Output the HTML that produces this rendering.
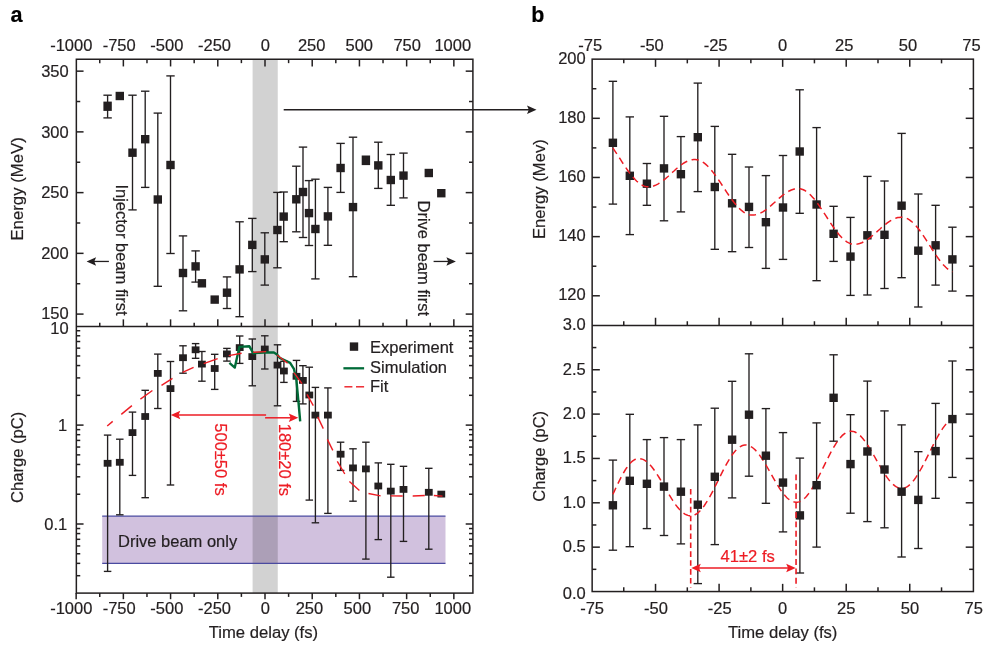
<!DOCTYPE html>
<html lang="en">
<head>
<meta charset="utf-8">
<title>Figure</title>
<style>
html,body{margin:0;padding:0;background:#fff;}
body{width:1000px;height:647px;overflow:hidden;}
svg{display:block;font-family:"Liberation Sans",Arial,Helvetica,sans-serif;}
</style>
</head>
<body>
<svg width="1000" height="647" viewBox="0 0 1000 647">
<rect x="0" y="0" width="1000" height="647" fill="#ffffff"/>
<rect x="252.6" y="59.25" width="25.15" height="533.85" fill="#d2d2d2"/>
<rect x="102.2" y="516.15" width="343.30" height="47.15" fill="#d1c1de" style="mix-blend-mode:multiply"/>
<line x1="102.20" y1="516.20" x2="445.50" y2="516.20" stroke="#4a4aa0" stroke-width="1.2" />
<line x1="102.20" y1="563.30" x2="445.50" y2="563.30" stroke="#4a4aa0" stroke-width="1.2" />
<line x1="76.15" y1="593.10" x2="76.15" y2="599.20" stroke="#231f20" stroke-width="1.5" />
<line x1="99.76" y1="59.25" x2="99.76" y2="63.15" stroke="#231f20" stroke-width="1.5" />
<line x1="99.76" y1="326.55" x2="99.76" y2="322.65" stroke="#231f20" stroke-width="1.5" />
<line x1="99.76" y1="593.10" x2="99.76" y2="596.90" stroke="#231f20" stroke-width="1.5" />
<line x1="123.36" y1="59.25" x2="123.36" y2="66.45" stroke="#231f20" stroke-width="1.5" />
<line x1="123.36" y1="326.55" x2="123.36" y2="319.35" stroke="#231f20" stroke-width="1.5" />
<line x1="123.36" y1="593.10" x2="123.36" y2="599.20" stroke="#231f20" stroke-width="1.5" />
<line x1="146.97" y1="59.25" x2="146.97" y2="63.15" stroke="#231f20" stroke-width="1.5" />
<line x1="146.97" y1="326.55" x2="146.97" y2="322.65" stroke="#231f20" stroke-width="1.5" />
<line x1="146.97" y1="593.10" x2="146.97" y2="596.90" stroke="#231f20" stroke-width="1.5" />
<line x1="170.57" y1="59.25" x2="170.57" y2="66.45" stroke="#231f20" stroke-width="1.5" />
<line x1="170.57" y1="326.55" x2="170.57" y2="319.35" stroke="#231f20" stroke-width="1.5" />
<line x1="170.57" y1="593.10" x2="170.57" y2="599.20" stroke="#231f20" stroke-width="1.5" />
<line x1="194.18" y1="59.25" x2="194.18" y2="63.15" stroke="#231f20" stroke-width="1.5" />
<line x1="194.18" y1="326.55" x2="194.18" y2="322.65" stroke="#231f20" stroke-width="1.5" />
<line x1="194.18" y1="593.10" x2="194.18" y2="596.90" stroke="#231f20" stroke-width="1.5" />
<line x1="217.79" y1="59.25" x2="217.79" y2="66.45" stroke="#231f20" stroke-width="1.5" />
<line x1="217.79" y1="326.55" x2="217.79" y2="319.35" stroke="#231f20" stroke-width="1.5" />
<line x1="217.79" y1="593.10" x2="217.79" y2="599.20" stroke="#231f20" stroke-width="1.5" />
<line x1="241.39" y1="59.25" x2="241.39" y2="63.15" stroke="#231f20" stroke-width="1.5" />
<line x1="241.39" y1="326.55" x2="241.39" y2="322.65" stroke="#231f20" stroke-width="1.5" />
<line x1="241.39" y1="593.10" x2="241.39" y2="596.90" stroke="#231f20" stroke-width="1.5" />
<line x1="265.00" y1="59.25" x2="265.00" y2="66.45" stroke="#231f20" stroke-width="1.5" />
<line x1="265.00" y1="326.55" x2="265.00" y2="319.35" stroke="#231f20" stroke-width="1.5" />
<line x1="265.00" y1="593.10" x2="265.00" y2="599.20" stroke="#231f20" stroke-width="1.5" />
<line x1="288.61" y1="59.25" x2="288.61" y2="63.15" stroke="#231f20" stroke-width="1.5" />
<line x1="288.61" y1="326.55" x2="288.61" y2="322.65" stroke="#231f20" stroke-width="1.5" />
<line x1="288.61" y1="593.10" x2="288.61" y2="596.90" stroke="#231f20" stroke-width="1.5" />
<line x1="312.21" y1="59.25" x2="312.21" y2="66.45" stroke="#231f20" stroke-width="1.5" />
<line x1="312.21" y1="326.55" x2="312.21" y2="319.35" stroke="#231f20" stroke-width="1.5" />
<line x1="312.21" y1="593.10" x2="312.21" y2="599.20" stroke="#231f20" stroke-width="1.5" />
<line x1="335.82" y1="59.25" x2="335.82" y2="63.15" stroke="#231f20" stroke-width="1.5" />
<line x1="335.82" y1="326.55" x2="335.82" y2="322.65" stroke="#231f20" stroke-width="1.5" />
<line x1="335.82" y1="593.10" x2="335.82" y2="596.90" stroke="#231f20" stroke-width="1.5" />
<line x1="359.43" y1="59.25" x2="359.43" y2="66.45" stroke="#231f20" stroke-width="1.5" />
<line x1="359.43" y1="326.55" x2="359.43" y2="319.35" stroke="#231f20" stroke-width="1.5" />
<line x1="359.43" y1="593.10" x2="359.43" y2="599.20" stroke="#231f20" stroke-width="1.5" />
<line x1="383.03" y1="59.25" x2="383.03" y2="63.15" stroke="#231f20" stroke-width="1.5" />
<line x1="383.03" y1="326.55" x2="383.03" y2="322.65" stroke="#231f20" stroke-width="1.5" />
<line x1="383.03" y1="593.10" x2="383.03" y2="596.90" stroke="#231f20" stroke-width="1.5" />
<line x1="406.64" y1="59.25" x2="406.64" y2="66.45" stroke="#231f20" stroke-width="1.5" />
<line x1="406.64" y1="326.55" x2="406.64" y2="319.35" stroke="#231f20" stroke-width="1.5" />
<line x1="406.64" y1="593.10" x2="406.64" y2="599.20" stroke="#231f20" stroke-width="1.5" />
<line x1="430.24" y1="59.25" x2="430.24" y2="63.15" stroke="#231f20" stroke-width="1.5" />
<line x1="430.24" y1="326.55" x2="430.24" y2="322.65" stroke="#231f20" stroke-width="1.5" />
<line x1="430.24" y1="593.10" x2="430.24" y2="596.90" stroke="#231f20" stroke-width="1.5" />
<line x1="453.85" y1="59.25" x2="453.85" y2="66.45" stroke="#231f20" stroke-width="1.5" />
<line x1="453.85" y1="326.55" x2="453.85" y2="319.35" stroke="#231f20" stroke-width="1.5" />
<line x1="453.85" y1="593.10" x2="453.85" y2="599.20" stroke="#231f20" stroke-width="1.5" />
<line x1="76.35" y1="314.09" x2="83.55" y2="314.09" stroke="#231f20" stroke-width="1.5" />
<line x1="472.90" y1="314.09" x2="465.70" y2="314.09" stroke="#231f20" stroke-width="1.5" />
<line x1="76.35" y1="283.72" x2="80.25" y2="283.72" stroke="#231f20" stroke-width="1.5" />
<line x1="472.90" y1="283.72" x2="469.00" y2="283.72" stroke="#231f20" stroke-width="1.5" />
<line x1="76.35" y1="253.35" x2="83.55" y2="253.35" stroke="#231f20" stroke-width="1.5" />
<line x1="472.90" y1="253.35" x2="465.70" y2="253.35" stroke="#231f20" stroke-width="1.5" />
<line x1="76.35" y1="222.99" x2="80.25" y2="222.99" stroke="#231f20" stroke-width="1.5" />
<line x1="472.90" y1="222.99" x2="469.00" y2="222.99" stroke="#231f20" stroke-width="1.5" />
<line x1="76.35" y1="192.62" x2="83.55" y2="192.62" stroke="#231f20" stroke-width="1.5" />
<line x1="472.90" y1="192.62" x2="465.70" y2="192.62" stroke="#231f20" stroke-width="1.5" />
<line x1="76.35" y1="162.25" x2="80.25" y2="162.25" stroke="#231f20" stroke-width="1.5" />
<line x1="472.90" y1="162.25" x2="469.00" y2="162.25" stroke="#231f20" stroke-width="1.5" />
<line x1="76.35" y1="131.88" x2="83.55" y2="131.88" stroke="#231f20" stroke-width="1.5" />
<line x1="472.90" y1="131.88" x2="465.70" y2="131.88" stroke="#231f20" stroke-width="1.5" />
<line x1="76.35" y1="101.52" x2="80.25" y2="101.52" stroke="#231f20" stroke-width="1.5" />
<line x1="472.90" y1="101.52" x2="469.00" y2="101.52" stroke="#231f20" stroke-width="1.5" />
<line x1="76.35" y1="71.15" x2="83.55" y2="71.15" stroke="#231f20" stroke-width="1.5" />
<line x1="472.90" y1="71.15" x2="465.70" y2="71.15" stroke="#231f20" stroke-width="1.5" />
<line x1="76.35" y1="575.71" x2="80.25" y2="575.71" stroke="#231f20" stroke-width="1.5" />
<line x1="472.90" y1="575.71" x2="469.00" y2="575.71" stroke="#231f20" stroke-width="1.5" />
<line x1="76.35" y1="563.36" x2="80.25" y2="563.36" stroke="#231f20" stroke-width="1.5" />
<line x1="472.90" y1="563.36" x2="469.00" y2="563.36" stroke="#231f20" stroke-width="1.5" />
<line x1="76.35" y1="553.77" x2="80.25" y2="553.77" stroke="#231f20" stroke-width="1.5" />
<line x1="472.90" y1="553.77" x2="469.00" y2="553.77" stroke="#231f20" stroke-width="1.5" />
<line x1="76.35" y1="545.94" x2="80.25" y2="545.94" stroke="#231f20" stroke-width="1.5" />
<line x1="472.90" y1="545.94" x2="469.00" y2="545.94" stroke="#231f20" stroke-width="1.5" />
<line x1="76.35" y1="539.32" x2="80.25" y2="539.32" stroke="#231f20" stroke-width="1.5" />
<line x1="472.90" y1="539.32" x2="469.00" y2="539.32" stroke="#231f20" stroke-width="1.5" />
<line x1="76.35" y1="533.58" x2="80.25" y2="533.58" stroke="#231f20" stroke-width="1.5" />
<line x1="472.90" y1="533.58" x2="469.00" y2="533.58" stroke="#231f20" stroke-width="1.5" />
<line x1="76.35" y1="528.53" x2="80.25" y2="528.53" stroke="#231f20" stroke-width="1.5" />
<line x1="472.90" y1="528.53" x2="469.00" y2="528.53" stroke="#231f20" stroke-width="1.5" />
<line x1="76.35" y1="524.00" x2="83.55" y2="524.00" stroke="#231f20" stroke-width="1.5" />
<line x1="472.90" y1="524.00" x2="465.70" y2="524.00" stroke="#231f20" stroke-width="1.5" />
<line x1="76.35" y1="494.23" x2="80.25" y2="494.23" stroke="#231f20" stroke-width="1.5" />
<line x1="472.90" y1="494.23" x2="469.00" y2="494.23" stroke="#231f20" stroke-width="1.5" />
<line x1="76.35" y1="476.81" x2="80.25" y2="476.81" stroke="#231f20" stroke-width="1.5" />
<line x1="472.90" y1="476.81" x2="469.00" y2="476.81" stroke="#231f20" stroke-width="1.5" />
<line x1="76.35" y1="464.46" x2="80.25" y2="464.46" stroke="#231f20" stroke-width="1.5" />
<line x1="472.90" y1="464.46" x2="469.00" y2="464.46" stroke="#231f20" stroke-width="1.5" />
<line x1="76.35" y1="454.87" x2="80.25" y2="454.87" stroke="#231f20" stroke-width="1.5" />
<line x1="472.90" y1="454.87" x2="469.00" y2="454.87" stroke="#231f20" stroke-width="1.5" />
<line x1="76.35" y1="447.04" x2="80.25" y2="447.04" stroke="#231f20" stroke-width="1.5" />
<line x1="472.90" y1="447.04" x2="469.00" y2="447.04" stroke="#231f20" stroke-width="1.5" />
<line x1="76.35" y1="440.42" x2="80.25" y2="440.42" stroke="#231f20" stroke-width="1.5" />
<line x1="472.90" y1="440.42" x2="469.00" y2="440.42" stroke="#231f20" stroke-width="1.5" />
<line x1="76.35" y1="434.68" x2="80.25" y2="434.68" stroke="#231f20" stroke-width="1.5" />
<line x1="472.90" y1="434.68" x2="469.00" y2="434.68" stroke="#231f20" stroke-width="1.5" />
<line x1="76.35" y1="429.63" x2="80.25" y2="429.63" stroke="#231f20" stroke-width="1.5" />
<line x1="472.90" y1="429.63" x2="469.00" y2="429.63" stroke="#231f20" stroke-width="1.5" />
<line x1="76.35" y1="425.10" x2="83.55" y2="425.10" stroke="#231f20" stroke-width="1.5" />
<line x1="472.90" y1="425.10" x2="465.70" y2="425.10" stroke="#231f20" stroke-width="1.5" />
<line x1="76.35" y1="395.33" x2="80.25" y2="395.33" stroke="#231f20" stroke-width="1.5" />
<line x1="472.90" y1="395.33" x2="469.00" y2="395.33" stroke="#231f20" stroke-width="1.5" />
<line x1="76.35" y1="377.91" x2="80.25" y2="377.91" stroke="#231f20" stroke-width="1.5" />
<line x1="472.90" y1="377.91" x2="469.00" y2="377.91" stroke="#231f20" stroke-width="1.5" />
<line x1="76.35" y1="365.56" x2="80.25" y2="365.56" stroke="#231f20" stroke-width="1.5" />
<line x1="472.90" y1="365.56" x2="469.00" y2="365.56" stroke="#231f20" stroke-width="1.5" />
<line x1="76.35" y1="355.97" x2="80.25" y2="355.97" stroke="#231f20" stroke-width="1.5" />
<line x1="472.90" y1="355.97" x2="469.00" y2="355.97" stroke="#231f20" stroke-width="1.5" />
<line x1="76.35" y1="348.14" x2="80.25" y2="348.14" stroke="#231f20" stroke-width="1.5" />
<line x1="472.90" y1="348.14" x2="469.00" y2="348.14" stroke="#231f20" stroke-width="1.5" />
<line x1="76.35" y1="341.52" x2="80.25" y2="341.52" stroke="#231f20" stroke-width="1.5" />
<line x1="472.90" y1="341.52" x2="469.00" y2="341.52" stroke="#231f20" stroke-width="1.5" />
<line x1="76.35" y1="335.78" x2="80.25" y2="335.78" stroke="#231f20" stroke-width="1.5" />
<line x1="472.90" y1="335.78" x2="469.00" y2="335.78" stroke="#231f20" stroke-width="1.5" />
<line x1="76.35" y1="330.73" x2="80.25" y2="330.73" stroke="#231f20" stroke-width="1.5" />
<line x1="472.90" y1="330.73" x2="469.00" y2="330.73" stroke="#231f20" stroke-width="1.5" />
<rect x="76.35" y="59.25" width="396.55" height="533.85" fill="none" stroke="#231f20" stroke-width="1.5"/>
<line x1="76.35" y1="326.55" x2="472.90" y2="326.55" stroke="#231f20" stroke-width="1.5" />
<line x1="107.60" y1="95.20" x2="107.60" y2="117.90" stroke="#231f20" stroke-width="1.35" />
<line x1="103.40" y1="95.20" x2="111.80" y2="95.20" stroke="#231f20" stroke-width="1.35" />
<line x1="103.40" y1="117.90" x2="111.80" y2="117.90" stroke="#231f20" stroke-width="1.35" />
<line x1="132.50" y1="95.20" x2="132.50" y2="209.90" stroke="#231f20" stroke-width="1.35" />
<line x1="128.30" y1="95.20" x2="136.70" y2="95.20" stroke="#231f20" stroke-width="1.35" />
<line x1="128.30" y1="209.90" x2="136.70" y2="209.90" stroke="#231f20" stroke-width="1.35" />
<line x1="145.20" y1="91.20" x2="145.20" y2="187.40" stroke="#231f20" stroke-width="1.35" />
<line x1="141.00" y1="91.20" x2="149.40" y2="91.20" stroke="#231f20" stroke-width="1.35" />
<line x1="141.00" y1="187.40" x2="149.40" y2="187.40" stroke="#231f20" stroke-width="1.35" />
<line x1="157.80" y1="113.10" x2="157.80" y2="286.30" stroke="#231f20" stroke-width="1.35" />
<line x1="153.60" y1="113.10" x2="162.00" y2="113.10" stroke="#231f20" stroke-width="1.35" />
<line x1="153.60" y1="286.30" x2="162.00" y2="286.30" stroke="#231f20" stroke-width="1.35" />
<line x1="170.50" y1="75.90" x2="170.50" y2="253.50" stroke="#231f20" stroke-width="1.35" />
<line x1="166.30" y1="75.90" x2="174.70" y2="75.90" stroke="#231f20" stroke-width="1.35" />
<line x1="166.30" y1="253.50" x2="174.70" y2="253.50" stroke="#231f20" stroke-width="1.35" />
<line x1="183.00" y1="235.90" x2="183.00" y2="310.80" stroke="#231f20" stroke-width="1.35" />
<line x1="178.80" y1="235.90" x2="187.20" y2="235.90" stroke="#231f20" stroke-width="1.35" />
<line x1="178.80" y1="310.80" x2="187.20" y2="310.80" stroke="#231f20" stroke-width="1.35" />
<line x1="195.60" y1="250.90" x2="195.60" y2="282.10" stroke="#231f20" stroke-width="1.35" />
<line x1="191.40" y1="250.90" x2="199.80" y2="250.90" stroke="#231f20" stroke-width="1.35" />
<line x1="191.40" y1="282.10" x2="199.80" y2="282.10" stroke="#231f20" stroke-width="1.35" />
<line x1="227.00" y1="276.90" x2="227.00" y2="308.50" stroke="#231f20" stroke-width="1.35" />
<line x1="222.80" y1="276.90" x2="231.20" y2="276.90" stroke="#231f20" stroke-width="1.35" />
<line x1="222.80" y1="308.50" x2="231.20" y2="308.50" stroke="#231f20" stroke-width="1.35" />
<line x1="239.60" y1="221.80" x2="239.60" y2="316.70" stroke="#231f20" stroke-width="1.35" />
<line x1="235.40" y1="221.80" x2="243.80" y2="221.80" stroke="#231f20" stroke-width="1.35" />
<line x1="235.40" y1="316.70" x2="243.80" y2="316.70" stroke="#231f20" stroke-width="1.35" />
<line x1="252.30" y1="218.40" x2="252.30" y2="271.60" stroke="#231f20" stroke-width="1.35" />
<line x1="248.10" y1="218.40" x2="256.50" y2="218.40" stroke="#231f20" stroke-width="1.35" />
<line x1="248.10" y1="271.60" x2="256.50" y2="271.60" stroke="#231f20" stroke-width="1.35" />
<line x1="264.80" y1="232.80" x2="264.80" y2="285.10" stroke="#231f20" stroke-width="1.35" />
<line x1="260.60" y1="232.80" x2="269.00" y2="232.80" stroke="#231f20" stroke-width="1.35" />
<line x1="260.60" y1="285.10" x2="269.00" y2="285.10" stroke="#231f20" stroke-width="1.35" />
<line x1="277.40" y1="192.40" x2="277.40" y2="267.80" stroke="#231f20" stroke-width="1.35" />
<line x1="273.20" y1="192.40" x2="281.60" y2="192.40" stroke="#231f20" stroke-width="1.35" />
<line x1="273.20" y1="267.80" x2="281.60" y2="267.80" stroke="#231f20" stroke-width="1.35" />
<line x1="283.70" y1="192.00" x2="283.70" y2="241.70" stroke="#231f20" stroke-width="1.35" />
<line x1="279.50" y1="192.00" x2="287.90" y2="192.00" stroke="#231f20" stroke-width="1.35" />
<line x1="279.50" y1="241.70" x2="287.90" y2="241.70" stroke="#231f20" stroke-width="1.35" />
<line x1="296.30" y1="166.20" x2="296.30" y2="231.80" stroke="#231f20" stroke-width="1.35" />
<line x1="292.10" y1="166.20" x2="300.50" y2="166.20" stroke="#231f20" stroke-width="1.35" />
<line x1="292.10" y1="231.80" x2="300.50" y2="231.80" stroke="#231f20" stroke-width="1.35" />
<line x1="303.00" y1="147.10" x2="303.00" y2="237.50" stroke="#231f20" stroke-width="1.35" />
<line x1="298.80" y1="147.10" x2="307.20" y2="147.10" stroke="#231f20" stroke-width="1.35" />
<line x1="298.80" y1="237.50" x2="307.20" y2="237.50" stroke="#231f20" stroke-width="1.35" />
<line x1="309.00" y1="180.60" x2="309.00" y2="245.50" stroke="#231f20" stroke-width="1.35" />
<line x1="304.80" y1="180.60" x2="313.20" y2="180.60" stroke="#231f20" stroke-width="1.35" />
<line x1="304.80" y1="245.50" x2="313.20" y2="245.50" stroke="#231f20" stroke-width="1.35" />
<line x1="315.40" y1="179.20" x2="315.40" y2="278.90" stroke="#231f20" stroke-width="1.35" />
<line x1="311.20" y1="179.20" x2="319.60" y2="179.20" stroke="#231f20" stroke-width="1.35" />
<line x1="311.20" y1="278.90" x2="319.60" y2="278.90" stroke="#231f20" stroke-width="1.35" />
<line x1="327.90" y1="187.40" x2="327.90" y2="245.30" stroke="#231f20" stroke-width="1.35" />
<line x1="323.70" y1="187.40" x2="332.10" y2="187.40" stroke="#231f20" stroke-width="1.35" />
<line x1="323.70" y1="245.30" x2="332.10" y2="245.30" stroke="#231f20" stroke-width="1.35" />
<line x1="340.60" y1="143.40" x2="340.60" y2="192.40" stroke="#231f20" stroke-width="1.35" />
<line x1="336.40" y1="143.40" x2="344.80" y2="143.40" stroke="#231f20" stroke-width="1.35" />
<line x1="336.40" y1="192.40" x2="344.80" y2="192.40" stroke="#231f20" stroke-width="1.35" />
<line x1="353.00" y1="137.20" x2="353.00" y2="276.70" stroke="#231f20" stroke-width="1.35" />
<line x1="348.80" y1="137.20" x2="357.20" y2="137.20" stroke="#231f20" stroke-width="1.35" />
<line x1="348.80" y1="276.70" x2="357.20" y2="276.70" stroke="#231f20" stroke-width="1.35" />
<line x1="378.30" y1="142.20" x2="378.30" y2="188.40" stroke="#231f20" stroke-width="1.35" />
<line x1="374.10" y1="142.20" x2="382.50" y2="142.20" stroke="#231f20" stroke-width="1.35" />
<line x1="374.10" y1="188.40" x2="382.50" y2="188.40" stroke="#231f20" stroke-width="1.35" />
<line x1="390.80" y1="154.50" x2="390.80" y2="205.30" stroke="#231f20" stroke-width="1.35" />
<line x1="386.60" y1="154.50" x2="395.00" y2="154.50" stroke="#231f20" stroke-width="1.35" />
<line x1="386.60" y1="205.30" x2="395.00" y2="205.30" stroke="#231f20" stroke-width="1.35" />
<line x1="403.50" y1="153.10" x2="403.50" y2="197.90" stroke="#231f20" stroke-width="1.35" />
<line x1="399.30" y1="153.10" x2="407.70" y2="153.10" stroke="#231f20" stroke-width="1.35" />
<line x1="399.30" y1="197.90" x2="407.70" y2="197.90" stroke="#231f20" stroke-width="1.35" />
<rect x="103.40" y="101.60" width="8.4" height="9.3" fill="#231f20"/>
<rect x="115.60" y="91.80" width="8.4" height="8.4" fill="#231f20"/>
<rect x="128.30" y="148.50" width="8.4" height="8.4" fill="#231f20"/>
<rect x="141.00" y="135.00" width="8.4" height="8.4" fill="#231f20"/>
<rect x="153.60" y="195.30" width="8.4" height="8.4" fill="#231f20"/>
<rect x="166.30" y="160.80" width="8.4" height="8.4" fill="#231f20"/>
<rect x="178.80" y="268.80" width="8.4" height="8.4" fill="#231f20"/>
<rect x="191.40" y="262.20" width="8.4" height="8.4" fill="#231f20"/>
<rect x="197.70" y="279.10" width="8.4" height="8.4" fill="#231f20"/>
<rect x="210.50" y="295.40" width="8.4" height="8.4" fill="#231f20"/>
<rect x="222.80" y="288.50" width="8.4" height="8.4" fill="#231f20"/>
<rect x="235.40" y="265.20" width="8.4" height="8.4" fill="#231f20"/>
<rect x="248.10" y="240.70" width="8.4" height="8.4" fill="#231f20"/>
<rect x="260.60" y="255.20" width="8.4" height="8.4" fill="#231f20"/>
<rect x="273.20" y="225.80" width="8.4" height="8.4" fill="#231f20"/>
<rect x="279.50" y="212.40" width="8.4" height="8.4" fill="#231f20"/>
<rect x="292.10" y="195.10" width="8.4" height="8.4" fill="#231f20"/>
<rect x="298.80" y="187.80" width="8.4" height="8.4" fill="#231f20"/>
<rect x="304.80" y="208.90" width="8.4" height="8.4" fill="#231f20"/>
<rect x="311.20" y="224.80" width="8.4" height="8.4" fill="#231f20"/>
<rect x="323.70" y="212.20" width="8.4" height="8.4" fill="#231f20"/>
<rect x="336.40" y="163.80" width="8.4" height="8.4" fill="#231f20"/>
<rect x="348.80" y="202.90" width="8.4" height="8.4" fill="#231f20"/>
<rect x="361.70" y="155.50" width="8.4" height="9.6" fill="#231f20"/>
<rect x="374.10" y="161.20" width="8.4" height="8.4" fill="#231f20"/>
<rect x="386.60" y="175.80" width="8.4" height="8.4" fill="#231f20"/>
<rect x="399.30" y="171.40" width="8.4" height="8.4" fill="#231f20"/>
<rect x="424.60" y="168.80" width="8.4" height="8.4" fill="#231f20"/>
<rect x="437.10" y="189.00" width="8.4" height="8.4" fill="#231f20"/>
<line x1="107.60" y1="435.10" x2="107.60" y2="571.40" stroke="#231f20" stroke-width="1.35" />
<line x1="103.85" y1="435.10" x2="111.35" y2="435.10" stroke="#231f20" stroke-width="1.35" />
<line x1="103.85" y1="571.40" x2="111.35" y2="571.40" stroke="#231f20" stroke-width="1.35" />
<line x1="119.80" y1="439.20" x2="119.80" y2="514.80" stroke="#231f20" stroke-width="1.35" />
<line x1="116.05" y1="439.20" x2="123.55" y2="439.20" stroke="#231f20" stroke-width="1.35" />
<line x1="116.05" y1="514.80" x2="123.55" y2="514.80" stroke="#231f20" stroke-width="1.35" />
<line x1="132.50" y1="412.10" x2="132.50" y2="475.40" stroke="#231f20" stroke-width="1.35" />
<line x1="128.75" y1="412.10" x2="136.25" y2="412.10" stroke="#231f20" stroke-width="1.35" />
<line x1="128.75" y1="475.40" x2="136.25" y2="475.40" stroke="#231f20" stroke-width="1.35" />
<line x1="145.20" y1="390.30" x2="145.20" y2="497.70" stroke="#231f20" stroke-width="1.35" />
<line x1="141.45" y1="390.30" x2="148.95" y2="390.30" stroke="#231f20" stroke-width="1.35" />
<line x1="141.45" y1="497.70" x2="148.95" y2="497.70" stroke="#231f20" stroke-width="1.35" />
<line x1="157.80" y1="354.10" x2="157.80" y2="408.50" stroke="#231f20" stroke-width="1.35" />
<line x1="154.05" y1="354.10" x2="161.55" y2="354.10" stroke="#231f20" stroke-width="1.35" />
<line x1="154.05" y1="408.50" x2="161.55" y2="408.50" stroke="#231f20" stroke-width="1.35" />
<line x1="170.50" y1="361.50" x2="170.50" y2="485.00" stroke="#231f20" stroke-width="1.35" />
<line x1="166.75" y1="361.50" x2="174.25" y2="361.50" stroke="#231f20" stroke-width="1.35" />
<line x1="166.75" y1="485.00" x2="174.25" y2="485.00" stroke="#231f20" stroke-width="1.35" />
<line x1="183.00" y1="345.80" x2="183.00" y2="373.20" stroke="#231f20" stroke-width="1.35" />
<line x1="179.25" y1="345.80" x2="186.75" y2="345.80" stroke="#231f20" stroke-width="1.35" />
<line x1="179.25" y1="373.20" x2="186.75" y2="373.20" stroke="#231f20" stroke-width="1.35" />
<line x1="195.60" y1="343.60" x2="195.60" y2="358.30" stroke="#231f20" stroke-width="1.35" />
<line x1="191.85" y1="343.60" x2="199.35" y2="343.60" stroke="#231f20" stroke-width="1.35" />
<line x1="191.85" y1="358.30" x2="199.35" y2="358.30" stroke="#231f20" stroke-width="1.35" />
<line x1="201.90" y1="351.50" x2="201.90" y2="381.20" stroke="#231f20" stroke-width="1.35" />
<line x1="198.15" y1="351.50" x2="205.65" y2="351.50" stroke="#231f20" stroke-width="1.35" />
<line x1="198.15" y1="381.20" x2="205.65" y2="381.20" stroke="#231f20" stroke-width="1.35" />
<line x1="214.70" y1="354.30" x2="214.70" y2="389.40" stroke="#231f20" stroke-width="1.35" />
<line x1="210.95" y1="354.30" x2="218.45" y2="354.30" stroke="#231f20" stroke-width="1.35" />
<line x1="210.95" y1="389.40" x2="218.45" y2="389.40" stroke="#231f20" stroke-width="1.35" />
<line x1="226.90" y1="348.40" x2="226.90" y2="361.10" stroke="#231f20" stroke-width="1.35" />
<line x1="223.15" y1="348.40" x2="230.65" y2="348.40" stroke="#231f20" stroke-width="1.35" />
<line x1="223.15" y1="361.10" x2="230.65" y2="361.10" stroke="#231f20" stroke-width="1.35" />
<line x1="239.70" y1="336.00" x2="239.70" y2="363.40" stroke="#231f20" stroke-width="1.35" />
<line x1="235.95" y1="336.00" x2="243.45" y2="336.00" stroke="#231f20" stroke-width="1.35" />
<line x1="235.95" y1="363.40" x2="243.45" y2="363.40" stroke="#231f20" stroke-width="1.35" />
<line x1="252.30" y1="339.00" x2="252.30" y2="385.80" stroke="#231f20" stroke-width="1.35" />
<line x1="248.55" y1="339.00" x2="256.05" y2="339.00" stroke="#231f20" stroke-width="1.35" />
<line x1="248.55" y1="385.80" x2="256.05" y2="385.80" stroke="#231f20" stroke-width="1.35" />
<line x1="264.80" y1="335.80" x2="264.80" y2="369.00" stroke="#231f20" stroke-width="1.35" />
<line x1="261.05" y1="335.80" x2="268.55" y2="335.80" stroke="#231f20" stroke-width="1.35" />
<line x1="261.05" y1="369.00" x2="268.55" y2="369.00" stroke="#231f20" stroke-width="1.35" />
<line x1="277.50" y1="344.80" x2="277.50" y2="405.80" stroke="#231f20" stroke-width="1.35" />
<line x1="273.75" y1="344.80" x2="281.25" y2="344.80" stroke="#231f20" stroke-width="1.35" />
<line x1="273.75" y1="405.80" x2="281.25" y2="405.80" stroke="#231f20" stroke-width="1.35" />
<line x1="283.90" y1="361.30" x2="283.90" y2="382.40" stroke="#231f20" stroke-width="1.35" />
<line x1="280.15" y1="361.30" x2="287.65" y2="361.30" stroke="#231f20" stroke-width="1.35" />
<line x1="280.15" y1="382.40" x2="287.65" y2="382.40" stroke="#231f20" stroke-width="1.35" />
<line x1="296.50" y1="360.40" x2="296.50" y2="401.40" stroke="#231f20" stroke-width="1.35" />
<line x1="292.75" y1="360.40" x2="300.25" y2="360.40" stroke="#231f20" stroke-width="1.35" />
<line x1="292.75" y1="401.40" x2="300.25" y2="401.40" stroke="#231f20" stroke-width="1.35" />
<line x1="302.90" y1="365.70" x2="302.90" y2="403.90" stroke="#231f20" stroke-width="1.35" />
<line x1="299.15" y1="365.70" x2="306.65" y2="365.70" stroke="#231f20" stroke-width="1.35" />
<line x1="299.15" y1="403.90" x2="306.65" y2="403.90" stroke="#231f20" stroke-width="1.35" />
<line x1="309.30" y1="367.20" x2="309.30" y2="500.10" stroke="#231f20" stroke-width="1.35" />
<line x1="305.55" y1="367.20" x2="313.05" y2="367.20" stroke="#231f20" stroke-width="1.35" />
<line x1="305.55" y1="500.10" x2="313.05" y2="500.10" stroke="#231f20" stroke-width="1.35" />
<line x1="315.40" y1="387.40" x2="315.40" y2="522.80" stroke="#231f20" stroke-width="1.35" />
<line x1="311.65" y1="387.40" x2="319.15" y2="387.40" stroke="#231f20" stroke-width="1.35" />
<line x1="311.65" y1="522.80" x2="319.15" y2="522.80" stroke="#231f20" stroke-width="1.35" />
<line x1="327.90" y1="387.90" x2="327.90" y2="513.40" stroke="#231f20" stroke-width="1.35" />
<line x1="324.15" y1="387.90" x2="331.65" y2="387.90" stroke="#231f20" stroke-width="1.35" />
<line x1="324.15" y1="513.40" x2="331.65" y2="513.40" stroke="#231f20" stroke-width="1.35" />
<line x1="340.60" y1="442.20" x2="340.60" y2="470.40" stroke="#231f20" stroke-width="1.35" />
<line x1="336.85" y1="442.20" x2="344.35" y2="442.20" stroke="#231f20" stroke-width="1.35" />
<line x1="336.85" y1="470.40" x2="344.35" y2="470.40" stroke="#231f20" stroke-width="1.35" />
<line x1="353.00" y1="448.80" x2="353.00" y2="501.20" stroke="#231f20" stroke-width="1.35" />
<line x1="349.25" y1="448.80" x2="356.75" y2="448.80" stroke="#231f20" stroke-width="1.35" />
<line x1="349.25" y1="501.20" x2="356.75" y2="501.20" stroke="#231f20" stroke-width="1.35" />
<line x1="365.90" y1="442.20" x2="365.90" y2="559.10" stroke="#231f20" stroke-width="1.35" />
<line x1="362.15" y1="442.20" x2="369.65" y2="442.20" stroke="#231f20" stroke-width="1.35" />
<line x1="362.15" y1="559.10" x2="369.65" y2="559.10" stroke="#231f20" stroke-width="1.35" />
<line x1="378.30" y1="462.90" x2="378.30" y2="539.60" stroke="#231f20" stroke-width="1.35" />
<line x1="374.55" y1="462.90" x2="382.05" y2="462.90" stroke="#231f20" stroke-width="1.35" />
<line x1="374.55" y1="539.60" x2="382.05" y2="539.60" stroke="#231f20" stroke-width="1.35" />
<line x1="390.80" y1="464.30" x2="390.80" y2="577.20" stroke="#231f20" stroke-width="1.35" />
<line x1="387.05" y1="464.30" x2="394.55" y2="464.30" stroke="#231f20" stroke-width="1.35" />
<line x1="387.05" y1="577.20" x2="394.55" y2="577.20" stroke="#231f20" stroke-width="1.35" />
<line x1="403.50" y1="466.30" x2="403.50" y2="541.40" stroke="#231f20" stroke-width="1.35" />
<line x1="399.75" y1="466.30" x2="407.25" y2="466.30" stroke="#231f20" stroke-width="1.35" />
<line x1="399.75" y1="541.40" x2="407.25" y2="541.40" stroke="#231f20" stroke-width="1.35" />
<line x1="428.80" y1="468.30" x2="428.80" y2="549.20" stroke="#231f20" stroke-width="1.35" />
<line x1="425.05" y1="468.30" x2="432.55" y2="468.30" stroke="#231f20" stroke-width="1.35" />
<line x1="425.05" y1="549.20" x2="432.55" y2="549.20" stroke="#231f20" stroke-width="1.35" />
<rect x="103.70" y="459.90" width="7.8" height="6.8" fill="#231f20"/>
<rect x="115.90" y="458.90" width="7.8" height="6.8" fill="#231f20"/>
<rect x="128.60" y="429.20" width="7.8" height="6.8" fill="#231f20"/>
<rect x="141.30" y="413.10" width="7.8" height="6.8" fill="#231f20"/>
<rect x="153.90" y="370.00" width="7.8" height="6.8" fill="#231f20"/>
<rect x="166.60" y="385.20" width="7.8" height="6.8" fill="#231f20"/>
<rect x="179.10" y="354.30" width="7.8" height="6.8" fill="#231f20"/>
<rect x="191.70" y="346.40" width="7.8" height="6.8" fill="#231f20"/>
<rect x="198.00" y="360.70" width="7.8" height="6.8" fill="#231f20"/>
<rect x="210.80" y="365.10" width="7.8" height="6.8" fill="#231f20"/>
<rect x="223.00" y="350.50" width="7.8" height="6.8" fill="#231f20"/>
<rect x="235.80" y="344.20" width="7.8" height="6.8" fill="#231f20"/>
<rect x="248.40" y="353.20" width="7.8" height="6.8" fill="#231f20"/>
<rect x="260.90" y="345.60" width="7.8" height="6.8" fill="#231f20"/>
<rect x="273.60" y="361.70" width="7.8" height="6.8" fill="#231f20"/>
<rect x="280.00" y="367.60" width="7.8" height="6.8" fill="#231f20"/>
<rect x="292.60" y="372.90" width="7.8" height="6.8" fill="#231f20"/>
<rect x="299.00" y="377.00" width="7.8" height="6.8" fill="#231f20"/>
<rect x="305.40" y="391.60" width="7.8" height="6.8" fill="#231f20"/>
<rect x="311.50" y="411.70" width="7.8" height="6.8" fill="#231f20"/>
<rect x="324.00" y="411.70" width="7.8" height="6.8" fill="#231f20"/>
<rect x="336.70" y="450.80" width="7.8" height="6.8" fill="#231f20"/>
<rect x="349.10" y="464.50" width="7.8" height="6.8" fill="#231f20"/>
<rect x="362.00" y="465.50" width="7.8" height="6.8" fill="#231f20"/>
<rect x="374.40" y="482.60" width="7.8" height="6.8" fill="#231f20"/>
<rect x="386.90" y="487.70" width="7.8" height="6.8" fill="#231f20"/>
<rect x="399.60" y="486.00" width="7.8" height="6.8" fill="#231f20"/>
<rect x="424.90" y="488.90" width="7.8" height="6.8" fill="#231f20"/>
<rect x="437.40" y="490.70" width="7.8" height="6.8" fill="#231f20"/>
<polyline points="229.4,362.8 234.8,367.6 239.4,346.9 249.4,346.3 253.2,353.2 263.8,352.5 273.9,352.5 277,354.4 280.1,358.2 290.1,362.8 293.9,368.8 296.4,380.1 298.3,400.1 300.2,421.3" fill="none" stroke="#006b38" stroke-width="2.4" stroke-linejoin="round"/>
<line x1="107.20" y1="426.00" x2="112.70" y2="421.40" stroke="#ed1c24" stroke-width="1.4" />
<line x1="121.30" y1="414.40" x2="131.90" y2="405.60" stroke="#ed1c24" stroke-width="1.4" />
<line x1="140.40" y1="399.10" x2="152.40" y2="390.50" stroke="#ed1c24" stroke-width="1.4" />
<line x1="161.50" y1="385.40" x2="172.50" y2="378.40" stroke="#ed1c24" stroke-width="1.4" />
<line x1="182.60" y1="372.40" x2="193.60" y2="367.30" stroke="#ed1c24" stroke-width="1.4" />
<line x1="203.70" y1="363.70" x2="217.70" y2="358.70" stroke="#ed1c24" stroke-width="1.4" />
<line x1="228.80" y1="355.60" x2="241.60" y2="353.30" stroke="#ed1c24" stroke-width="1.4" />
<line x1="253.10" y1="352.30" x2="266.20" y2="351.60" stroke="#ed1c24" stroke-width="1.4" />
<line x1="277.00" y1="355.00" x2="287.60" y2="363.20" stroke="#ed1c24" stroke-width="1.4" />
<line x1="293.90" y1="372.60" x2="302.00" y2="383.60" stroke="#ed1c24" stroke-width="1.4" />
<line x1="307.00" y1="394.40" x2="313.30" y2="405.70" stroke="#ed1c24" stroke-width="1.4" />
<line x1="317.70" y1="416.90" x2="323.30" y2="428.60" stroke="#ed1c24" stroke-width="1.4" />
<line x1="327.40" y1="439.40" x2="332.80" y2="450.40" stroke="#ed1c24" stroke-width="1.4" />
<line x1="337.30" y1="461.30" x2="344.80" y2="474.00" stroke="#ed1c24" stroke-width="1.4" />
<line x1="349.40" y1="481.40" x2="359.40" y2="490.50" stroke="#ed1c24" stroke-width="1.4" />
<line x1="368.50" y1="493.50" x2="380.60" y2="495.90" stroke="#ed1c24" stroke-width="1.4" />
<line x1="390.60" y1="495.90" x2="402.70" y2="496.00" stroke="#ed1c24" stroke-width="1.4" />
<line x1="412.70" y1="496.00" x2="424.80" y2="495.50" stroke="#ed1c24" stroke-width="1.4" />
<line x1="433.80" y1="495.50" x2="442.50" y2="496.10" stroke="#ed1c24" stroke-width="1.4" />
<line x1="176.00" y1="415.05" x2="266.10" y2="415.05" stroke="#ed1c24" stroke-width="1.5" />
<path d="M170.80,415.05 L180.30,410.85 L178.50,415.05 L180.30,419.25 Z" fill="#ed1c24"/>
<line x1="265.10" y1="417.80" x2="293.00" y2="417.80" stroke="#ed1c24" stroke-width="1.5" />
<path d="M298.30,417.80 L288.80,413.60 L290.60,417.80 L288.80,422.00 Z" fill="#ed1c24"/>
<text x="214.70" y="423.30" font-size="16.5" text-anchor="start" fill="#ed1c24" transform="rotate(90 214.70 423.30)" stroke="#ed1c24" stroke-width="0.2">500±50 fs</text>
<text x="278.50" y="423.70" font-size="16.5" text-anchor="start" fill="#ed1c24" transform="rotate(90 278.50 423.70)" stroke="#ed1c24" stroke-width="0.2">180±20 fs</text>
<line x1="94.00" y1="261.45" x2="108.90" y2="261.45" stroke="#231f20" stroke-width="1.3" />
<path d="M86.60,261.45 L96.10,257.25 L94.30,261.45 L96.10,265.65 Z" fill="#231f20"/>
<line x1="433.60" y1="261.45" x2="449.00" y2="261.45" stroke="#231f20" stroke-width="1.3" />
<path d="M455.90,261.45 L446.40,257.25 L448.20,261.45 L446.40,265.65 Z" fill="#231f20"/>
<text x="115.60" y="184.40" font-size="16.5" text-anchor="start" fill="#231f20" transform="rotate(90 115.60 184.40)" stroke="#231f20" stroke-width="0.2">Injector beam first</text>
<text x="417.70" y="200.50" font-size="16.5" text-anchor="start" fill="#231f20" transform="rotate(90 417.70 200.50)" stroke="#231f20" stroke-width="0.2">Drive beam first</text>
<line x1="283.70" y1="109.80" x2="530.00" y2="109.80" stroke="#231f20" stroke-width="1.4" />
<path d="M536.50,109.80 L527.00,105.60 L528.80,109.80 L527.00,114.00 Z" fill="#231f20"/>
<rect x="349.80" y="342.40" width="8.4" height="8.4" fill="#231f20"/>
<text x="370.00" y="352.80" font-size="16.5" text-anchor="start" fill="#231f20" stroke="#231f20" stroke-width="0.2">Experiment</text>
<line x1="343.40" y1="368.30" x2="364.10" y2="368.30" stroke="#006b38" stroke-width="2.3" />
<text x="370.00" y="372.60" font-size="16.5" text-anchor="start" fill="#231f20" stroke="#231f20" stroke-width="0.2">Simulation</text>
<line x1="344.40" y1="386.80" x2="352.40" y2="386.80" stroke="#ed1c24" stroke-width="1.4" />
<line x1="356.00" y1="386.80" x2="364.10" y2="386.80" stroke="#ed1c24" stroke-width="1.4" />
<text x="370.00" y="391.60" font-size="16.5" text-anchor="start" fill="#231f20" stroke="#231f20" stroke-width="0.2">Fit</text>
<text x="118.00" y="546.60" font-size="16.5" text-anchor="start" fill="#231f20" stroke="#231f20" stroke-width="0.2">Drive beam only</text>
<text x="50.20" y="50.80" font-size="16.5" text-anchor="start" fill="#231f20" stroke="#231f20" stroke-width="0.2">-1000</text>
<text x="102.70" y="50.80" font-size="16.5" text-anchor="start" fill="#231f20" stroke="#231f20" stroke-width="0.2">-750</text>
<text x="150.30" y="50.80" font-size="16.5" text-anchor="start" fill="#231f20" stroke="#231f20" stroke-width="0.2">-500</text>
<text x="198.00" y="50.80" font-size="16.5" text-anchor="start" fill="#231f20" stroke="#231f20" stroke-width="0.2">-250</text>
<text x="260.70" y="50.80" font-size="16.5" text-anchor="start" fill="#231f20" stroke="#231f20" stroke-width="0.2">0</text>
<text x="297.90" y="50.80" font-size="16.5" text-anchor="start" fill="#231f20" stroke="#231f20" stroke-width="0.2">250</text>
<text x="345.50" y="50.80" font-size="16.5" text-anchor="start" fill="#231f20" stroke="#231f20" stroke-width="0.2">500</text>
<text x="393.40" y="50.80" font-size="16.5" text-anchor="start" fill="#231f20" stroke="#231f20" stroke-width="0.2">750</text>
<text x="434.40" y="50.80" font-size="16.5" text-anchor="start" fill="#231f20" stroke="#231f20" stroke-width="0.2">1000</text>
<text x="50.20" y="614.00" font-size="16.5" text-anchor="start" fill="#231f20" stroke="#231f20" stroke-width="0.2">-1000</text>
<text x="102.70" y="614.00" font-size="16.5" text-anchor="start" fill="#231f20" stroke="#231f20" stroke-width="0.2">-750</text>
<text x="150.30" y="614.00" font-size="16.5" text-anchor="start" fill="#231f20" stroke="#231f20" stroke-width="0.2">-500</text>
<text x="198.00" y="614.00" font-size="16.5" text-anchor="start" fill="#231f20" stroke="#231f20" stroke-width="0.2">-250</text>
<text x="260.70" y="614.00" font-size="16.5" text-anchor="start" fill="#231f20" stroke="#231f20" stroke-width="0.2">0</text>
<text x="295.70" y="614.00" font-size="16.5" text-anchor="start" fill="#231f20" stroke="#231f20" stroke-width="0.2">250</text>
<text x="343.60" y="614.00" font-size="16.5" text-anchor="start" fill="#231f20" stroke="#231f20" stroke-width="0.2">500</text>
<text x="391.90" y="614.00" font-size="16.5" text-anchor="start" fill="#231f20" stroke="#231f20" stroke-width="0.2">750</text>
<text x="434.40" y="614.00" font-size="16.5" text-anchor="start" fill="#231f20" stroke="#231f20" stroke-width="0.2">1000</text>
<text x="68.70" y="76.80" font-size="16.5" text-anchor="end" fill="#231f20" stroke="#231f20" stroke-width="0.2">350</text>
<text x="68.70" y="138.00" font-size="16.5" text-anchor="end" fill="#231f20" stroke="#231f20" stroke-width="0.2">300</text>
<text x="68.70" y="198.10" font-size="16.5" text-anchor="end" fill="#231f20" stroke="#231f20" stroke-width="0.2">250</text>
<text x="68.70" y="258.90" font-size="16.5" text-anchor="end" fill="#231f20" stroke="#231f20" stroke-width="0.2">200</text>
<text x="68.70" y="318.85" font-size="16.5" text-anchor="end" fill="#231f20" stroke="#231f20" stroke-width="0.2">150</text>
<text x="68.70" y="333.90" font-size="16.5" text-anchor="end" fill="#231f20" stroke="#231f20" stroke-width="0.2">10</text>
<text x="67.30" y="431.00" font-size="16.5" text-anchor="end" fill="#231f20" stroke="#231f20" stroke-width="0.2">1</text>
<text x="67.30" y="529.90" font-size="16.5" text-anchor="end" fill="#231f20" stroke="#231f20" stroke-width="0.2">0.1</text>
<text x="22.90" y="188.90" font-size="16.75" text-anchor="middle" fill="#231f20" transform="rotate(-90 22.90 188.90)" stroke="#231f20" stroke-width="0.2">Energy (MeV)</text>
<text x="22.90" y="457.40" font-size="16.6" text-anchor="middle" fill="#231f20" transform="rotate(-90 22.90 457.40)" stroke="#231f20" stroke-width="0.2">Charge (pC)</text>
<text x="208.70" y="638.00" font-size="16.65" text-anchor="start" fill="#231f20" stroke="#231f20" stroke-width="0.2">Time delay (fs)</text>
<text x="10.40" y="21.50" font-size="21.6" text-anchor="start" fill="#000" font-weight="bold" stroke="#000" stroke-width="0.2">a</text>
<!-- panel b -->
<line x1="623.76" y1="59.15" x2="623.76" y2="63.35" stroke="#231f20" stroke-width="1.5" />
<line x1="623.76" y1="325.45" x2="623.76" y2="321.25" stroke="#231f20" stroke-width="1.5" />
<line x1="623.76" y1="591.55" x2="623.76" y2="587.35" stroke="#231f20" stroke-width="1.5" />
<line x1="655.53" y1="59.15" x2="655.53" y2="66.85" stroke="#231f20" stroke-width="1.5" />
<line x1="655.53" y1="325.45" x2="655.53" y2="317.75" stroke="#231f20" stroke-width="1.5" />
<line x1="655.53" y1="591.55" x2="655.53" y2="583.85" stroke="#231f20" stroke-width="1.5" />
<line x1="687.31" y1="59.15" x2="687.31" y2="63.35" stroke="#231f20" stroke-width="1.5" />
<line x1="687.31" y1="325.45" x2="687.31" y2="321.25" stroke="#231f20" stroke-width="1.5" />
<line x1="687.31" y1="591.55" x2="687.31" y2="587.35" stroke="#231f20" stroke-width="1.5" />
<line x1="719.09" y1="59.15" x2="719.09" y2="66.85" stroke="#231f20" stroke-width="1.5" />
<line x1="719.09" y1="325.45" x2="719.09" y2="317.75" stroke="#231f20" stroke-width="1.5" />
<line x1="719.09" y1="591.55" x2="719.09" y2="583.85" stroke="#231f20" stroke-width="1.5" />
<line x1="750.87" y1="59.15" x2="750.87" y2="63.35" stroke="#231f20" stroke-width="1.5" />
<line x1="750.87" y1="325.45" x2="750.87" y2="321.25" stroke="#231f20" stroke-width="1.5" />
<line x1="750.87" y1="591.55" x2="750.87" y2="587.35" stroke="#231f20" stroke-width="1.5" />
<line x1="782.65" y1="59.15" x2="782.65" y2="66.85" stroke="#231f20" stroke-width="1.5" />
<line x1="782.65" y1="325.45" x2="782.65" y2="317.75" stroke="#231f20" stroke-width="1.5" />
<line x1="782.65" y1="591.55" x2="782.65" y2="583.85" stroke="#231f20" stroke-width="1.5" />
<line x1="814.43" y1="59.15" x2="814.43" y2="63.35" stroke="#231f20" stroke-width="1.5" />
<line x1="814.43" y1="325.45" x2="814.43" y2="321.25" stroke="#231f20" stroke-width="1.5" />
<line x1="814.43" y1="591.55" x2="814.43" y2="587.35" stroke="#231f20" stroke-width="1.5" />
<line x1="846.21" y1="59.15" x2="846.21" y2="66.85" stroke="#231f20" stroke-width="1.5" />
<line x1="846.21" y1="325.45" x2="846.21" y2="317.75" stroke="#231f20" stroke-width="1.5" />
<line x1="846.21" y1="591.55" x2="846.21" y2="583.85" stroke="#231f20" stroke-width="1.5" />
<line x1="877.99" y1="59.15" x2="877.99" y2="63.35" stroke="#231f20" stroke-width="1.5" />
<line x1="877.99" y1="325.45" x2="877.99" y2="321.25" stroke="#231f20" stroke-width="1.5" />
<line x1="877.99" y1="591.55" x2="877.99" y2="587.35" stroke="#231f20" stroke-width="1.5" />
<line x1="909.76" y1="59.15" x2="909.76" y2="66.85" stroke="#231f20" stroke-width="1.5" />
<line x1="909.76" y1="325.45" x2="909.76" y2="317.75" stroke="#231f20" stroke-width="1.5" />
<line x1="909.76" y1="591.55" x2="909.76" y2="583.85" stroke="#231f20" stroke-width="1.5" />
<line x1="941.54" y1="59.15" x2="941.54" y2="63.35" stroke="#231f20" stroke-width="1.5" />
<line x1="941.54" y1="325.45" x2="941.54" y2="321.25" stroke="#231f20" stroke-width="1.5" />
<line x1="941.54" y1="591.55" x2="941.54" y2="587.35" stroke="#231f20" stroke-width="1.5" />
<line x1="592.15" y1="295.79" x2="599.85" y2="295.79" stroke="#231f20" stroke-width="1.5" />
<line x1="973.40" y1="295.79" x2="965.70" y2="295.79" stroke="#231f20" stroke-width="1.5" />
<line x1="592.15" y1="266.21" x2="596.35" y2="266.21" stroke="#231f20" stroke-width="1.5" />
<line x1="973.40" y1="266.21" x2="969.20" y2="266.21" stroke="#231f20" stroke-width="1.5" />
<line x1="592.15" y1="236.63" x2="599.85" y2="236.63" stroke="#231f20" stroke-width="1.5" />
<line x1="973.40" y1="236.63" x2="965.70" y2="236.63" stroke="#231f20" stroke-width="1.5" />
<line x1="592.15" y1="207.05" x2="596.35" y2="207.05" stroke="#231f20" stroke-width="1.5" />
<line x1="973.40" y1="207.05" x2="969.20" y2="207.05" stroke="#231f20" stroke-width="1.5" />
<line x1="592.15" y1="177.47" x2="599.85" y2="177.47" stroke="#231f20" stroke-width="1.5" />
<line x1="973.40" y1="177.47" x2="965.70" y2="177.47" stroke="#231f20" stroke-width="1.5" />
<line x1="592.15" y1="147.89" x2="596.35" y2="147.89" stroke="#231f20" stroke-width="1.5" />
<line x1="973.40" y1="147.89" x2="969.20" y2="147.89" stroke="#231f20" stroke-width="1.5" />
<line x1="592.15" y1="118.31" x2="599.85" y2="118.31" stroke="#231f20" stroke-width="1.5" />
<line x1="973.40" y1="118.31" x2="965.70" y2="118.31" stroke="#231f20" stroke-width="1.5" />
<line x1="592.15" y1="88.73" x2="596.35" y2="88.73" stroke="#231f20" stroke-width="1.5" />
<line x1="973.40" y1="88.73" x2="969.20" y2="88.73" stroke="#231f20" stroke-width="1.5" />
<line x1="592.15" y1="569.33" x2="596.35" y2="569.33" stroke="#231f20" stroke-width="1.5" />
<line x1="973.40" y1="569.33" x2="969.20" y2="569.33" stroke="#231f20" stroke-width="1.5" />
<line x1="592.15" y1="547.15" x2="599.85" y2="547.15" stroke="#231f20" stroke-width="1.5" />
<line x1="973.40" y1="547.15" x2="965.70" y2="547.15" stroke="#231f20" stroke-width="1.5" />
<line x1="592.15" y1="524.98" x2="596.35" y2="524.98" stroke="#231f20" stroke-width="1.5" />
<line x1="973.40" y1="524.98" x2="969.20" y2="524.98" stroke="#231f20" stroke-width="1.5" />
<line x1="592.15" y1="502.80" x2="599.85" y2="502.80" stroke="#231f20" stroke-width="1.5" />
<line x1="973.40" y1="502.80" x2="965.70" y2="502.80" stroke="#231f20" stroke-width="1.5" />
<line x1="592.15" y1="480.62" x2="596.35" y2="480.62" stroke="#231f20" stroke-width="1.5" />
<line x1="973.40" y1="480.62" x2="969.20" y2="480.62" stroke="#231f20" stroke-width="1.5" />
<line x1="592.15" y1="458.45" x2="599.85" y2="458.45" stroke="#231f20" stroke-width="1.5" />
<line x1="973.40" y1="458.45" x2="965.70" y2="458.45" stroke="#231f20" stroke-width="1.5" />
<line x1="592.15" y1="436.27" x2="596.35" y2="436.27" stroke="#231f20" stroke-width="1.5" />
<line x1="973.40" y1="436.27" x2="969.20" y2="436.27" stroke="#231f20" stroke-width="1.5" />
<line x1="592.15" y1="414.10" x2="599.85" y2="414.10" stroke="#231f20" stroke-width="1.5" />
<line x1="973.40" y1="414.10" x2="965.70" y2="414.10" stroke="#231f20" stroke-width="1.5" />
<line x1="592.15" y1="391.92" x2="596.35" y2="391.92" stroke="#231f20" stroke-width="1.5" />
<line x1="973.40" y1="391.92" x2="969.20" y2="391.92" stroke="#231f20" stroke-width="1.5" />
<line x1="592.15" y1="369.75" x2="599.85" y2="369.75" stroke="#231f20" stroke-width="1.5" />
<line x1="973.40" y1="369.75" x2="965.70" y2="369.75" stroke="#231f20" stroke-width="1.5" />
<line x1="592.15" y1="347.57" x2="596.35" y2="347.57" stroke="#231f20" stroke-width="1.5" />
<line x1="973.40" y1="347.57" x2="969.20" y2="347.57" stroke="#231f20" stroke-width="1.5" />
<rect x="592.15" y="59.15" width="381.25" height="532.40" fill="none" stroke="#231f20" stroke-width="1.5"/>
<line x1="592.15" y1="325.45" x2="973.40" y2="325.45" stroke="#231f20" stroke-width="1.5" />
<line x1="612.90" y1="81.30" x2="612.90" y2="204.10" stroke="#231f20" stroke-width="1.35" />
<line x1="608.70" y1="81.30" x2="617.10" y2="81.30" stroke="#231f20" stroke-width="1.35" />
<line x1="608.70" y1="204.10" x2="617.10" y2="204.10" stroke="#231f20" stroke-width="1.35" />
<line x1="629.80" y1="116.90" x2="629.80" y2="234.60" stroke="#231f20" stroke-width="1.35" />
<line x1="625.60" y1="116.90" x2="634.00" y2="116.90" stroke="#231f20" stroke-width="1.35" />
<line x1="625.60" y1="234.60" x2="634.00" y2="234.60" stroke="#231f20" stroke-width="1.35" />
<line x1="646.90" y1="163.50" x2="646.90" y2="205.30" stroke="#231f20" stroke-width="1.35" />
<line x1="642.70" y1="163.50" x2="651.10" y2="163.50" stroke="#231f20" stroke-width="1.35" />
<line x1="642.70" y1="205.30" x2="651.10" y2="205.30" stroke="#231f20" stroke-width="1.35" />
<line x1="664.00" y1="116.30" x2="664.00" y2="220.80" stroke="#231f20" stroke-width="1.35" />
<line x1="659.80" y1="116.30" x2="668.20" y2="116.30" stroke="#231f20" stroke-width="1.35" />
<line x1="659.80" y1="220.80" x2="668.20" y2="220.80" stroke="#231f20" stroke-width="1.35" />
<line x1="680.90" y1="136.60" x2="680.90" y2="211.90" stroke="#231f20" stroke-width="1.35" />
<line x1="676.70" y1="136.60" x2="685.10" y2="136.60" stroke="#231f20" stroke-width="1.35" />
<line x1="676.70" y1="211.90" x2="685.10" y2="211.90" stroke="#231f20" stroke-width="1.35" />
<line x1="697.80" y1="83.10" x2="697.80" y2="191.60" stroke="#231f20" stroke-width="1.35" />
<line x1="693.60" y1="83.10" x2="702.00" y2="83.10" stroke="#231f20" stroke-width="1.35" />
<line x1="693.60" y1="191.60" x2="702.00" y2="191.60" stroke="#231f20" stroke-width="1.35" />
<line x1="714.80" y1="126.40" x2="714.80" y2="249.30" stroke="#231f20" stroke-width="1.35" />
<line x1="710.60" y1="126.40" x2="719.00" y2="126.40" stroke="#231f20" stroke-width="1.35" />
<line x1="710.60" y1="249.30" x2="719.00" y2="249.30" stroke="#231f20" stroke-width="1.35" />
<line x1="732.10" y1="154.30" x2="732.10" y2="251.70" stroke="#231f20" stroke-width="1.35" />
<line x1="727.90" y1="154.30" x2="736.30" y2="154.30" stroke="#231f20" stroke-width="1.35" />
<line x1="727.90" y1="251.70" x2="736.30" y2="251.70" stroke="#231f20" stroke-width="1.35" />
<line x1="749.00" y1="167.00" x2="749.00" y2="247.50" stroke="#231f20" stroke-width="1.35" />
<line x1="744.80" y1="167.00" x2="753.20" y2="167.00" stroke="#231f20" stroke-width="1.35" />
<line x1="744.80" y1="247.50" x2="753.20" y2="247.50" stroke="#231f20" stroke-width="1.35" />
<line x1="765.90" y1="175.60" x2="765.90" y2="268.40" stroke="#231f20" stroke-width="1.35" />
<line x1="761.70" y1="175.60" x2="770.10" y2="175.60" stroke="#231f20" stroke-width="1.35" />
<line x1="761.70" y1="268.40" x2="770.10" y2="268.40" stroke="#231f20" stroke-width="1.35" />
<line x1="783.00" y1="155.50" x2="783.00" y2="259.40" stroke="#231f20" stroke-width="1.35" />
<line x1="778.80" y1="155.50" x2="787.20" y2="155.50" stroke="#231f20" stroke-width="1.35" />
<line x1="778.80" y1="259.40" x2="787.20" y2="259.40" stroke="#231f20" stroke-width="1.35" />
<line x1="799.70" y1="89.80" x2="799.70" y2="213.30" stroke="#231f20" stroke-width="1.35" />
<line x1="795.50" y1="89.80" x2="803.90" y2="89.80" stroke="#231f20" stroke-width="1.35" />
<line x1="795.50" y1="213.30" x2="803.90" y2="213.30" stroke="#231f20" stroke-width="1.35" />
<line x1="816.60" y1="127.60" x2="816.60" y2="280.70" stroke="#231f20" stroke-width="1.35" />
<line x1="812.40" y1="127.60" x2="820.80" y2="127.60" stroke="#231f20" stroke-width="1.35" />
<line x1="812.40" y1="280.70" x2="820.80" y2="280.70" stroke="#231f20" stroke-width="1.35" />
<line x1="833.60" y1="206.30" x2="833.60" y2="261.40" stroke="#231f20" stroke-width="1.35" />
<line x1="829.40" y1="206.30" x2="837.80" y2="206.30" stroke="#231f20" stroke-width="1.35" />
<line x1="829.40" y1="261.40" x2="837.80" y2="261.40" stroke="#231f20" stroke-width="1.35" />
<line x1="850.50" y1="217.40" x2="850.50" y2="295.40" stroke="#231f20" stroke-width="1.35" />
<line x1="846.30" y1="217.40" x2="854.70" y2="217.40" stroke="#231f20" stroke-width="1.35" />
<line x1="846.30" y1="295.40" x2="854.70" y2="295.40" stroke="#231f20" stroke-width="1.35" />
<line x1="867.40" y1="176.40" x2="867.40" y2="295.00" stroke="#231f20" stroke-width="1.35" />
<line x1="863.20" y1="176.40" x2="871.60" y2="176.40" stroke="#231f20" stroke-width="1.35" />
<line x1="863.20" y1="295.00" x2="871.60" y2="295.00" stroke="#231f20" stroke-width="1.35" />
<line x1="884.50" y1="181.00" x2="884.50" y2="288.50" stroke="#231f20" stroke-width="1.35" />
<line x1="880.30" y1="181.00" x2="888.70" y2="181.00" stroke="#231f20" stroke-width="1.35" />
<line x1="880.30" y1="288.50" x2="888.70" y2="288.50" stroke="#231f20" stroke-width="1.35" />
<line x1="901.60" y1="133.40" x2="901.60" y2="277.70" stroke="#231f20" stroke-width="1.35" />
<line x1="897.40" y1="133.40" x2="905.80" y2="133.40" stroke="#231f20" stroke-width="1.35" />
<line x1="897.40" y1="277.70" x2="905.80" y2="277.70" stroke="#231f20" stroke-width="1.35" />
<line x1="918.30" y1="194.00" x2="918.30" y2="307.00" stroke="#231f20" stroke-width="1.35" />
<line x1="914.10" y1="194.00" x2="922.50" y2="194.00" stroke="#231f20" stroke-width="1.35" />
<line x1="914.10" y1="307.00" x2="922.50" y2="307.00" stroke="#231f20" stroke-width="1.35" />
<line x1="935.60" y1="205.30" x2="935.60" y2="285.10" stroke="#231f20" stroke-width="1.35" />
<line x1="931.40" y1="205.30" x2="939.80" y2="205.30" stroke="#231f20" stroke-width="1.35" />
<line x1="931.40" y1="285.10" x2="939.80" y2="285.10" stroke="#231f20" stroke-width="1.35" />
<line x1="952.40" y1="227.20" x2="952.40" y2="291.10" stroke="#231f20" stroke-width="1.35" />
<line x1="948.20" y1="227.20" x2="956.60" y2="227.20" stroke="#231f20" stroke-width="1.35" />
<line x1="948.20" y1="291.10" x2="956.60" y2="291.10" stroke="#231f20" stroke-width="1.35" />
<rect x="608.70" y="138.60" width="8.4" height="8.4" fill="#231f20"/>
<rect x="625.60" y="171.60" width="8.4" height="8.4" fill="#231f20"/>
<rect x="642.70" y="179.50" width="8.4" height="8.4" fill="#231f20"/>
<rect x="659.80" y="164.20" width="8.4" height="8.4" fill="#231f20"/>
<rect x="676.70" y="170.00" width="8.4" height="8.4" fill="#231f20"/>
<rect x="693.60" y="133.00" width="8.4" height="8.4" fill="#231f20"/>
<rect x="710.60" y="182.80" width="8.4" height="8.4" fill="#231f20"/>
<rect x="727.90" y="199.10" width="8.4" height="8.4" fill="#231f20"/>
<rect x="744.80" y="202.70" width="8.4" height="8.4" fill="#231f20"/>
<rect x="761.70" y="218.00" width="8.4" height="8.4" fill="#231f20"/>
<rect x="778.80" y="203.30" width="8.4" height="8.4" fill="#231f20"/>
<rect x="795.50" y="147.30" width="8.4" height="8.4" fill="#231f20"/>
<rect x="812.40" y="200.30" width="8.4" height="8.4" fill="#231f20"/>
<rect x="829.40" y="229.60" width="8.4" height="8.4" fill="#231f20"/>
<rect x="846.30" y="252.40" width="8.4" height="8.4" fill="#231f20"/>
<rect x="863.20" y="231.10" width="8.4" height="8.4" fill="#231f20"/>
<rect x="880.30" y="230.60" width="8.4" height="8.4" fill="#231f20"/>
<rect x="897.40" y="201.50" width="8.4" height="8.4" fill="#231f20"/>
<rect x="914.10" y="246.50" width="8.4" height="8.4" fill="#231f20"/>
<rect x="931.40" y="241.10" width="8.4" height="8.4" fill="#231f20"/>
<rect x="948.20" y="255.20" width="8.4" height="8.4" fill="#231f20"/>
<polyline points="612.8,147.9 614.3,150.1 615.8,152.3 617.3,154.6 618.8,156.9 620.3,159.2 621.8,161.6 623.3,163.9 624.8,166.1 626.3,168.3 627.8,170.5 629.3,172.6 630.8,174.5 632.3,176.4 633.8,178.1 635.3,179.8 636.8,181.2 638.3,182.5 639.8,183.7 641.3,184.7 642.8,185.5 644.3,186.1 645.8,186.5 647.3,186.7 648.8,186.8 650.3,186.7 651.8,186.4 653.3,186.1 654.8,185.5 656.3,184.9 657.8,184.1 659.3,183.2 660.8,182.3 662.3,181.2 663.8,180.0 665.3,178.8 666.8,177.5 668.3,176.2 669.8,174.8 671.3,173.4 672.8,172.0 674.3,170.7 675.8,169.3 677.3,168.0 678.8,166.8 680.3,165.6 681.8,164.5 683.3,163.4 684.8,162.5 686.3,161.7 687.8,161.0 689.3,160.4 690.8,160.0 692.3,159.7 693.8,159.5 695.3,159.5 696.8,159.7 698.3,160.0 699.8,160.5 701.3,161.2 702.8,162.1 704.3,163.2 705.8,164.4 707.3,165.8 708.8,167.3 710.3,168.9 711.8,170.7 713.3,172.6 714.8,174.6 716.3,176.6 717.8,178.8 719.3,181.0 720.8,183.2 722.3,185.5 723.8,187.8 725.3,190.0 726.8,192.3 728.3,194.5 729.8,196.7 731.3,198.8 732.8,200.8 734.3,202.8 735.8,204.6 737.3,206.4 738.8,208.0 740.3,209.4 741.8,210.7 743.3,211.9 744.8,212.9 746.3,213.7 747.8,214.3 749.3,214.8 750.8,215.0 752.3,215.1 753.8,215.0 755.3,214.8 756.8,214.4 758.3,214.0 759.8,213.3 761.3,212.6 762.8,211.8 764.3,210.8 765.8,209.8 767.3,208.6 768.8,207.4 770.3,206.2 771.8,204.9 773.3,203.5 774.8,202.2 776.3,200.8 777.8,199.5 779.3,198.1 780.8,196.9 782.3,195.6 783.8,194.5 785.3,193.4 786.8,192.4 788.3,191.5 789.8,190.7 791.3,190.0 792.8,189.5 794.3,189.0 795.8,188.8 797.3,188.6 798.8,188.6 800.3,188.8 801.8,189.2 803.3,189.8 804.8,190.5 806.3,191.5 807.8,192.6 809.3,193.8 810.8,195.3 812.3,196.9 813.8,198.6 815.3,200.4 816.8,202.4 818.3,204.4 819.8,206.6 821.3,208.8 822.8,211.1 824.3,213.4 825.8,215.7 827.3,218.0 828.8,220.3 830.3,222.6 831.8,224.8 833.3,227.0 834.8,229.1 836.3,231.2 837.8,233.1 839.3,234.9 840.8,236.6 842.3,238.1 843.8,239.5 845.3,240.7 846.8,241.8 848.3,242.7 849.8,243.4 851.3,243.9 852.8,244.2 854.3,244.3 855.8,244.2 857.3,244.1 858.8,243.7 860.3,243.3 861.8,242.7 863.3,242.0 864.8,241.2 866.3,240.3 867.8,239.3 869.3,238.2 870.8,237.1 872.3,235.8 873.8,234.5 875.3,233.2 876.8,231.9 878.3,230.5 879.8,229.2 881.3,227.8 882.8,226.5 884.3,225.3 885.8,224.1 887.3,222.9 888.8,221.8 890.3,220.9 891.8,220.0 893.3,219.2 894.8,218.6 896.3,218.0 897.8,217.6 899.3,217.4 900.8,217.2 902.3,217.2 903.8,217.4 905.3,217.8 906.8,218.4 908.3,219.2 909.8,220.1 911.3,221.3 912.8,222.6 914.3,224.1 915.8,225.7 917.3,227.4 918.8,229.3 920.3,231.3 921.8,233.4 923.3,235.6 924.8,237.9 926.3,240.2 927.8,242.5 929.3,244.9 930.8,247.2 932.3,249.6 933.8,251.9 935.3,254.1 936.8,256.3 938.3,258.5 939.8,260.5 941.3,262.4 942.8,264.2 944.3,265.8 945.8,267.3 947.3,268.7 948.8,269.9 950.3,270.9 951.8,271.7 952.4,271.9" fill="none" stroke="#ed1c24" stroke-width="1.5" stroke-dasharray="7.2 4.6"/>
<line x1="612.90" y1="460.10" x2="612.90" y2="550.20" stroke="#231f20" stroke-width="1.35" />
<line x1="608.70" y1="460.10" x2="617.10" y2="460.10" stroke="#231f20" stroke-width="1.35" />
<line x1="608.70" y1="550.20" x2="617.10" y2="550.20" stroke="#231f20" stroke-width="1.35" />
<line x1="629.80" y1="414.30" x2="629.80" y2="546.70" stroke="#231f20" stroke-width="1.35" />
<line x1="625.60" y1="414.30" x2="634.00" y2="414.30" stroke="#231f20" stroke-width="1.35" />
<line x1="625.60" y1="546.70" x2="634.00" y2="546.70" stroke="#231f20" stroke-width="1.35" />
<line x1="646.90" y1="439.60" x2="646.90" y2="528.60" stroke="#231f20" stroke-width="1.35" />
<line x1="642.70" y1="439.60" x2="651.10" y2="439.60" stroke="#231f20" stroke-width="1.35" />
<line x1="642.70" y1="528.60" x2="651.10" y2="528.60" stroke="#231f20" stroke-width="1.35" />
<line x1="664.00" y1="437.60" x2="664.00" y2="535.50" stroke="#231f20" stroke-width="1.35" />
<line x1="659.80" y1="437.60" x2="668.20" y2="437.60" stroke="#231f20" stroke-width="1.35" />
<line x1="659.80" y1="535.50" x2="668.20" y2="535.50" stroke="#231f20" stroke-width="1.35" />
<line x1="680.90" y1="439.60" x2="680.90" y2="543.90" stroke="#231f20" stroke-width="1.35" />
<line x1="676.70" y1="439.60" x2="685.10" y2="439.60" stroke="#231f20" stroke-width="1.35" />
<line x1="676.70" y1="543.90" x2="685.10" y2="543.90" stroke="#231f20" stroke-width="1.35" />
<line x1="697.80" y1="424.90" x2="697.80" y2="583.60" stroke="#231f20" stroke-width="1.35" />
<line x1="693.60" y1="424.90" x2="702.00" y2="424.90" stroke="#231f20" stroke-width="1.35" />
<line x1="693.60" y1="583.60" x2="702.00" y2="583.60" stroke="#231f20" stroke-width="1.35" />
<line x1="714.80" y1="408.20" x2="714.80" y2="544.60" stroke="#231f20" stroke-width="1.35" />
<line x1="710.60" y1="408.20" x2="719.00" y2="408.20" stroke="#231f20" stroke-width="1.35" />
<line x1="710.60" y1="544.60" x2="719.00" y2="544.60" stroke="#231f20" stroke-width="1.35" />
<line x1="732.10" y1="381.30" x2="732.10" y2="497.90" stroke="#231f20" stroke-width="1.35" />
<line x1="727.90" y1="381.30" x2="736.30" y2="381.30" stroke="#231f20" stroke-width="1.35" />
<line x1="727.90" y1="497.90" x2="736.30" y2="497.90" stroke="#231f20" stroke-width="1.35" />
<line x1="749.00" y1="353.80" x2="749.00" y2="476.20" stroke="#231f20" stroke-width="1.35" />
<line x1="744.80" y1="353.80" x2="753.20" y2="353.80" stroke="#231f20" stroke-width="1.35" />
<line x1="744.80" y1="476.20" x2="753.20" y2="476.20" stroke="#231f20" stroke-width="1.35" />
<line x1="765.90" y1="408.60" x2="765.90" y2="503.30" stroke="#231f20" stroke-width="1.35" />
<line x1="761.70" y1="408.60" x2="770.10" y2="408.60" stroke="#231f20" stroke-width="1.35" />
<line x1="761.70" y1="503.30" x2="770.10" y2="503.30" stroke="#231f20" stroke-width="1.35" />
<line x1="783.00" y1="432.60" x2="783.00" y2="531.90" stroke="#231f20" stroke-width="1.35" />
<line x1="778.80" y1="432.60" x2="787.20" y2="432.60" stroke="#231f20" stroke-width="1.35" />
<line x1="778.80" y1="531.90" x2="787.20" y2="531.90" stroke="#231f20" stroke-width="1.35" />
<line x1="799.90" y1="458.10" x2="799.90" y2="573.00" stroke="#231f20" stroke-width="1.35" />
<line x1="795.70" y1="458.10" x2="804.10" y2="458.10" stroke="#231f20" stroke-width="1.35" />
<line x1="795.70" y1="573.00" x2="804.10" y2="573.00" stroke="#231f20" stroke-width="1.35" />
<line x1="816.60" y1="422.90" x2="816.60" y2="547.10" stroke="#231f20" stroke-width="1.35" />
<line x1="812.40" y1="422.90" x2="820.80" y2="422.90" stroke="#231f20" stroke-width="1.35" />
<line x1="812.40" y1="547.10" x2="820.80" y2="547.10" stroke="#231f20" stroke-width="1.35" />
<line x1="833.60" y1="354.80" x2="833.60" y2="441.20" stroke="#231f20" stroke-width="1.35" />
<line x1="829.40" y1="354.80" x2="837.80" y2="354.80" stroke="#231f20" stroke-width="1.35" />
<line x1="829.40" y1="441.20" x2="837.80" y2="441.20" stroke="#231f20" stroke-width="1.35" />
<line x1="850.50" y1="414.70" x2="850.50" y2="513.20" stroke="#231f20" stroke-width="1.35" />
<line x1="846.30" y1="414.70" x2="854.70" y2="414.70" stroke="#231f20" stroke-width="1.35" />
<line x1="846.30" y1="513.20" x2="854.70" y2="513.20" stroke="#231f20" stroke-width="1.35" />
<line x1="867.40" y1="381.10" x2="867.40" y2="521.60" stroke="#231f20" stroke-width="1.35" />
<line x1="863.20" y1="381.10" x2="871.60" y2="381.10" stroke="#231f20" stroke-width="1.35" />
<line x1="863.20" y1="521.60" x2="871.60" y2="521.60" stroke="#231f20" stroke-width="1.35" />
<line x1="884.50" y1="410.90" x2="884.50" y2="527.80" stroke="#231f20" stroke-width="1.35" />
<line x1="880.30" y1="410.90" x2="888.70" y2="410.90" stroke="#231f20" stroke-width="1.35" />
<line x1="880.30" y1="527.80" x2="888.70" y2="527.80" stroke="#231f20" stroke-width="1.35" />
<line x1="901.60" y1="424.90" x2="901.60" y2="557.00" stroke="#231f20" stroke-width="1.35" />
<line x1="897.40" y1="424.90" x2="905.80" y2="424.90" stroke="#231f20" stroke-width="1.35" />
<line x1="897.40" y1="557.00" x2="905.80" y2="557.00" stroke="#231f20" stroke-width="1.35" />
<line x1="918.30" y1="451.70" x2="918.30" y2="548.50" stroke="#231f20" stroke-width="1.35" />
<line x1="914.10" y1="451.70" x2="922.50" y2="451.70" stroke="#231f20" stroke-width="1.35" />
<line x1="914.10" y1="548.50" x2="922.50" y2="548.50" stroke="#231f20" stroke-width="1.35" />
<line x1="935.60" y1="403.40" x2="935.60" y2="498.30" stroke="#231f20" stroke-width="1.35" />
<line x1="931.40" y1="403.40" x2="939.80" y2="403.40" stroke="#231f20" stroke-width="1.35" />
<line x1="931.40" y1="498.30" x2="939.80" y2="498.30" stroke="#231f20" stroke-width="1.35" />
<line x1="952.40" y1="361.00" x2="952.40" y2="477.40" stroke="#231f20" stroke-width="1.35" />
<line x1="948.20" y1="361.00" x2="956.60" y2="361.00" stroke="#231f20" stroke-width="1.35" />
<line x1="948.20" y1="477.40" x2="956.60" y2="477.40" stroke="#231f20" stroke-width="1.35" />
<polyline points="612.9,494.3 614.4,491.1 615.9,487.8 617.4,484.7 618.9,481.6 620.4,478.6 621.9,475.8 623.4,473.0 624.9,470.5 626.4,468.2 627.9,466.1 629.4,464.2 630.9,462.5 632.4,461.2 633.9,460.1 635.4,459.3 636.9,458.7 638.4,458.5 639.9,458.6 641.4,458.9 642.9,459.4 644.4,460.1 645.9,461.1 647.4,462.3 648.9,463.7 650.4,465.3 651.9,467.0 653.4,469.0 654.9,471.1 656.4,473.3 657.9,475.6 659.4,478.0 660.9,480.5 662.4,483.1 663.9,485.7 665.4,488.3 666.9,490.9 668.4,493.4 669.9,495.9 671.4,498.4 672.9,500.7 674.4,502.9 675.9,505.1 677.4,507.0 678.9,508.8 680.4,510.4 681.9,511.8 683.4,513.0 684.9,514.1 686.4,514.8 687.9,515.4 689.4,515.7 690.9,515.8 692.4,515.6 693.9,515.2 695.4,514.5 696.9,513.6 698.4,512.4 699.9,511.0 701.4,509.4 702.9,507.5 704.4,505.5 705.9,503.2 707.4,500.8 708.9,498.3 710.4,495.6 711.9,492.8 713.4,489.9 714.9,486.9 716.4,483.9 717.9,480.9 719.4,477.9 720.9,474.9 722.4,471.9 723.9,469.0 725.4,466.1 726.9,463.4 728.4,460.8 729.9,458.4 731.4,456.1 732.9,453.9 734.4,452.0 735.9,450.3 737.4,448.8 738.9,447.6 740.4,446.6 741.9,445.8 743.4,445.3 744.9,445.0 746.4,445.0 747.9,445.3 749.4,445.8 750.9,446.5 752.4,447.5 753.9,448.7 755.4,450.1 756.9,451.8 758.4,453.6 759.9,455.6 761.4,457.7 762.9,460.0 764.4,462.4 765.9,464.9 767.4,467.5 768.9,470.1 770.4,472.8 771.9,475.4 773.4,478.1 774.9,480.7 776.4,483.2 777.9,485.7 779.4,488.1 780.9,490.3 782.4,492.4 783.9,494.3 785.4,496.1 786.9,497.7 788.4,499.0 789.9,500.1 791.4,501.0 792.9,501.7 794.4,502.1 795.9,502.3 797.4,502.2 798.9,501.9 800.4,501.3 801.9,500.4 803.4,499.3 804.9,498.0 806.4,496.4 807.9,494.6 809.4,492.6 810.9,490.4 812.4,488.0 813.9,485.5 815.4,482.9 816.9,480.1 818.4,477.2 819.9,474.2 821.4,471.2 822.9,468.2 824.4,465.1 825.9,462.1 827.4,459.1 828.9,456.1 830.4,453.2 831.9,450.5 833.4,447.8 834.9,445.3 836.4,442.9 837.9,440.8 839.4,438.8 840.9,437.0 842.4,435.4 843.9,434.1 845.4,433.0 846.9,432.2 848.4,431.6 849.9,431.3 851.4,431.2 852.9,431.4 854.4,431.8 855.9,432.5 857.4,433.4 858.9,434.6 860.4,435.9 861.9,437.5 863.4,439.2 864.9,441.2 866.4,443.3 867.9,445.5 869.4,447.9 870.9,450.3 872.4,452.9 873.9,455.5 875.4,458.1 876.9,460.8 878.4,463.4 879.9,466.0 881.4,468.6 882.9,471.1 884.4,473.5 885.9,475.8 887.4,477.9 888.9,479.9 890.4,481.7 891.9,483.3 893.4,484.7 894.9,485.9 896.4,486.9 897.9,487.6 899.4,488.1 900.9,488.4 902.4,488.4 903.9,488.1 905.4,487.6 906.9,486.8 908.4,485.8 909.9,484.6 911.4,483.1 912.9,481.4 914.4,479.5 915.9,477.4 917.4,475.1 918.9,472.6 920.4,470.0 921.9,467.3 923.4,464.5 924.9,461.6 926.4,458.6 927.9,455.6 929.4,452.6 930.9,449.6 932.4,446.6 933.9,443.6 935.4,440.8 936.9,438.0 938.4,435.3 939.9,432.8 941.4,430.4 942.9,428.2 944.4,426.1 945.9,424.3 947.4,422.7 948.9,421.3 950.4,420.1 951.0,419.7" fill="none" stroke="#ed1c24" stroke-width="1.5" stroke-dasharray="7.2 4.6"/>
<rect x="608.70" y="501.10" width="8.4" height="8.4" fill="#231f20"/>
<rect x="625.60" y="476.60" width="8.4" height="8.4" fill="#231f20"/>
<rect x="642.70" y="479.60" width="8.4" height="8.4" fill="#231f20"/>
<rect x="659.80" y="482.40" width="8.4" height="8.4" fill="#231f20"/>
<rect x="676.70" y="487.50" width="8.4" height="8.4" fill="#231f20"/>
<rect x="693.60" y="500.50" width="8.4" height="8.4" fill="#231f20"/>
<rect x="710.60" y="472.60" width="8.4" height="8.4" fill="#231f20"/>
<rect x="727.90" y="435.50" width="8.4" height="8.4" fill="#231f20"/>
<rect x="744.80" y="410.50" width="8.4" height="8.4" fill="#231f20"/>
<rect x="761.70" y="451.50" width="8.4" height="8.4" fill="#231f20"/>
<rect x="778.80" y="478.40" width="8.4" height="8.4" fill="#231f20"/>
<rect x="795.70" y="511.20" width="8.4" height="8.4" fill="#231f20"/>
<rect x="812.40" y="481.00" width="8.4" height="8.4" fill="#231f20"/>
<rect x="829.40" y="393.60" width="8.4" height="8.4" fill="#231f20"/>
<rect x="846.30" y="459.90" width="8.4" height="8.4" fill="#231f20"/>
<rect x="863.20" y="447.30" width="8.4" height="8.4" fill="#231f20"/>
<rect x="880.30" y="465.30" width="8.4" height="8.4" fill="#231f20"/>
<rect x="897.40" y="487.50" width="8.4" height="8.4" fill="#231f20"/>
<rect x="914.10" y="495.70" width="8.4" height="8.4" fill="#231f20"/>
<rect x="931.40" y="446.90" width="8.4" height="8.4" fill="#231f20"/>
<rect x="948.20" y="414.90" width="8.4" height="8.4" fill="#231f20"/>
<line x1="690.70" y1="489.00" x2="690.70" y2="587.60" stroke="#ed1c24" stroke-width="1.6" stroke-dasharray="5.6 3.3"/>
<line x1="796.05" y1="474.40" x2="796.05" y2="587.60" stroke="#ed1c24" stroke-width="1.6" stroke-dasharray="5.9 3.5"/>
<line x1="697.00" y1="568.05" x2="790.00" y2="568.05" stroke="#ed1c24" stroke-width="1.5" />
<path d="M691.30,568.05 L700.80,563.85 L699.00,568.05 L700.80,572.25 Z" fill="#ed1c24"/>
<path d="M795.70,568.05 L786.20,563.85 L788.00,568.05 L786.20,572.25 Z" fill="#ed1c24"/>
<text x="720.50" y="562.20" font-size="16.6" text-anchor="start" fill="#ed1c24" stroke="#ed1c24" stroke-width="0.2">41±2 fs</text>
<text x="578.30" y="50.80" font-size="16.5" text-anchor="start" fill="#231f20" stroke="#231f20" stroke-width="0.2">-75</text>
<text x="639.90" y="50.80" font-size="16.5" text-anchor="start" fill="#231f20" stroke="#231f20" stroke-width="0.2">-50</text>
<text x="703.70" y="50.80" font-size="16.5" text-anchor="start" fill="#231f20" stroke="#231f20" stroke-width="0.2">-25</text>
<text x="778.10" y="50.80" font-size="16.5" text-anchor="start" fill="#231f20" stroke="#231f20" stroke-width="0.2">0</text>
<text x="835.10" y="50.80" font-size="16.5" text-anchor="start" fill="#231f20" stroke="#231f20" stroke-width="0.2">25</text>
<text x="898.80" y="50.80" font-size="16.5" text-anchor="start" fill="#231f20" stroke="#231f20" stroke-width="0.2">50</text>
<text x="962.30" y="50.80" font-size="16.5" text-anchor="start" fill="#231f20" stroke="#231f20" stroke-width="0.2">75</text>
<text x="580.20" y="614.20" font-size="16.5" text-anchor="start" fill="#231f20" stroke="#231f20" stroke-width="0.2">-75</text>
<text x="644.00" y="614.20" font-size="16.5" text-anchor="start" fill="#231f20" stroke="#231f20" stroke-width="0.2">-50</text>
<text x="707.80" y="614.20" font-size="16.5" text-anchor="start" fill="#231f20" stroke="#231f20" stroke-width="0.2">-25</text>
<text x="778.10" y="614.20" font-size="16.5" text-anchor="start" fill="#231f20" stroke="#231f20" stroke-width="0.2">0</text>
<text x="837.10" y="614.20" font-size="16.5" text-anchor="start" fill="#231f20" stroke="#231f20" stroke-width="0.2">25</text>
<text x="900.80" y="614.20" font-size="16.5" text-anchor="start" fill="#231f20" stroke="#231f20" stroke-width="0.2">50</text>
<text x="964.50" y="614.20" font-size="16.5" text-anchor="start" fill="#231f20" stroke="#231f20" stroke-width="0.2">75</text>
<text x="585.70" y="63.85" font-size="16.5" text-anchor="end" fill="#231f20" stroke="#231f20" stroke-width="0.2">200</text>
<text x="585.70" y="123.01" font-size="16.5" text-anchor="end" fill="#231f20" stroke="#231f20" stroke-width="0.2">180</text>
<text x="585.70" y="182.17" font-size="16.5" text-anchor="end" fill="#231f20" stroke="#231f20" stroke-width="0.2">160</text>
<text x="585.70" y="241.33" font-size="16.5" text-anchor="end" fill="#231f20" stroke="#231f20" stroke-width="0.2">140</text>
<text x="585.70" y="300.49" font-size="16.5" text-anchor="end" fill="#231f20" stroke="#231f20" stroke-width="0.2">120</text>
<text x="585.70" y="330.40" font-size="16.5" text-anchor="end" fill="#231f20" stroke="#231f20" stroke-width="0.2">3.0</text>
<text x="585.70" y="374.70" font-size="16.5" text-anchor="end" fill="#231f20" stroke="#231f20" stroke-width="0.2">2.5</text>
<text x="585.70" y="419.00" font-size="16.5" text-anchor="end" fill="#231f20" stroke="#231f20" stroke-width="0.2">2.0</text>
<text x="585.70" y="463.20" font-size="16.5" text-anchor="end" fill="#231f20" stroke="#231f20" stroke-width="0.2">1.5</text>
<text x="585.70" y="507.70" font-size="16.5" text-anchor="end" fill="#231f20" stroke="#231f20" stroke-width="0.2">1.0</text>
<text x="585.70" y="552.20" font-size="16.5" text-anchor="end" fill="#231f20" stroke="#231f20" stroke-width="0.2">0.5</text>
<text x="585.70" y="598.75" font-size="16.5" text-anchor="end" fill="#231f20" stroke="#231f20" stroke-width="0.2">0.0</text>
<text x="545.40" y="189.10" font-size="16.65" text-anchor="middle" fill="#231f20" transform="rotate(-90 545.40 189.10)" stroke="#231f20" stroke-width="0.2">Energy (Mev)</text>
<text x="545.00" y="456.30" font-size="16.5" text-anchor="middle" fill="#231f20" transform="rotate(-90 545.00 456.30)" stroke="#231f20" stroke-width="0.2">Charge (pC)</text>
<text x="728.00" y="638.00" font-size="16.65" text-anchor="start" fill="#231f20" stroke="#231f20" stroke-width="0.2">Time delay (fs)</text>
<text x="531.20" y="21.50" font-size="21.4" text-anchor="start" fill="#000" font-weight="bold" stroke="#000" stroke-width="0.2">b</text>
</svg>
</body>
</html>
